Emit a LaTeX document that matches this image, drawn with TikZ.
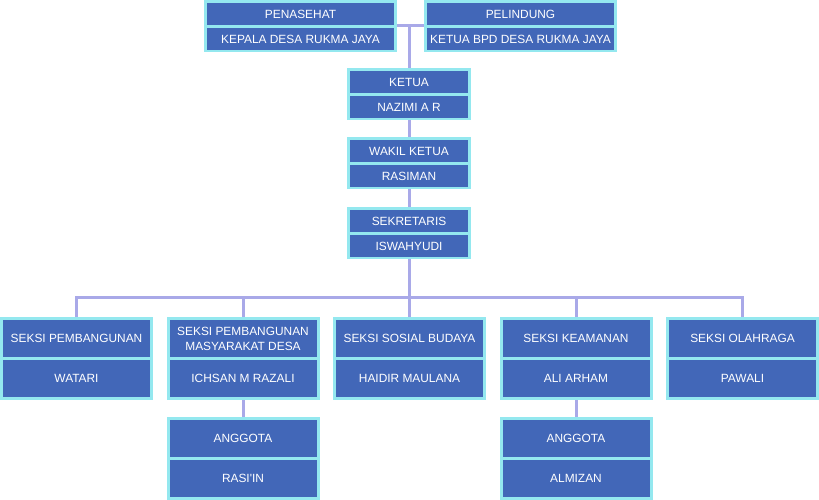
\documentclass[tikz,border=0pt]{standalone}
\usepackage{fontspec}
\setmainfont{Liberation Sans}
\usetikzlibrary{positioning}
\definecolor{cardblue}{HTML}{4267B8}
\definecolor{cardrim}{HTML}{94E8EF}
\definecolor{linkline}{HTML}{A9A9E8}

\begin{document}
\begin{tikzpicture}[x=1pt, y=-1pt,
    card/.style={fill=cardrim, inner sep=0pt, outer sep=0pt, minimum height=52pt},
    tallcard/.style={card, minimum width=153pt, minimum height=83pt},
    cell/.style={fill=cardblue, text=white, inner sep=0pt, outer sep=0pt, align=center, font=\fontsize{11.9}{15}\selectfont, minimum height=22pt},
    tallcell/.style={cell, minimum width=147pt, minimum height=37pt},
    link/.style={draw=linkline, line width=3pt}]
    \useasboundingbox (0,0) rectangle (819,500);
    % top row
    \node[card, minimum width=193pt] (pen) at (300.5,26) {};
    \node[cell, minimum width=187pt, below=3pt of pen.north] (pen1) {PENASEHAT};
    \node[cell, minimum width=187pt, below=3pt of pen1] (pen2) {KEPALA DESA RUKMA JAYA};
    \node[card, minimum width=193pt] (pel) at (520.5,26) {};
    \node[cell, minimum width=187pt, below=3pt of pel.north] (pel1) {PELINDUNG};
    \node[cell, minimum width=187pt, below=3pt of pel1] (pel2) {KETUA BPD DESA RUKMA JAYA};
    % centre column
    \node[card, minimum width=124pt] (ket) at (409,94) {};
    \node[cell, minimum width=118pt, below=3pt of ket.north] (ket1) {KETUA};
    \node[cell, minimum width=118pt, below=3pt of ket1] (ket2) {NAZIMI A R};
    \node[card, minimum width=124pt] (wak) at (409,163) {};
    \node[cell, minimum width=118pt, below=3pt of wak.north] (wak1) {WAKIL KETUA};
    \node[cell, minimum width=118pt, below=3pt of wak1] (wak2) {RASIMAN};
    \node[card, minimum width=124pt] (sek) at (409,233) {};
    \node[cell, minimum width=118pt, below=3pt of sek.north] (sek1) {SEKRETARIS};
    \node[cell, minimum width=118pt, below=3pt of sek1] (sek2) {ISWAHYUDI};
    % sections
    \foreach \i/\x/\ta/\tb in {1/76.5/{SEKSI PEMBANGUNAN}/{WATARI},
        2/243/{SEKSI PEMBANGUNAN\\MASYARAKAT DESA}/{ICHSAN M RAZALI},
        3/409.5/{SEKSI SOSIAL BUDAYA}/{HAIDIR MAULANA},
        4/576/{SEKSI KEAMANAN}/{ALI ARHAM},
        5/742.5/{SEKSI OLAHRAGA}/{PAWALI}} {
        \node[tallcard] (sec\i) at (\x,358.5) {};
        \node[tallcell, below=3pt of sec\i.north] (sec\i a) {\ta};
        \node[tallcell, below=3pt of sec\i a] (sec\i b) {\tb};
    }
    % members
    \node[tallcard] (ang) at (243,458.5) {};
    \node[tallcell, below=3pt of ang.north] (ang1) {ANGGOTA};
    \node[tallcell, below=3pt of ang1] (ang2) {RASI\textquotesingle IN};
    \node[tallcard] (agk) at (576,458.5) {};
    \node[tallcell, below=3pt of agk.north] (agk1) {ANGGOTA};
    \node[tallcell, below=3pt of agk1] (agk2) {ALMIZAN};
    % connectors
    \coordinate (bus) at (409,297);
    \draw[link] (pen.east) -- (pel.west);
    \draw[link] (ket.north) -- (ket.north |- pen.east);
    \draw[link] (ket.south) -- (wak.north);
    \draw[link] (wak.south) -- (sek.north);
    \draw[link] (sek.south) -- (bus);
    \draw[link] (sec1.north) -- (sec1.north |- bus) -- (sec5.north |- bus) -- (sec5.north);
    \foreach \i in {2,3,4} \draw[link] (sec\i.north) -- (sec\i.north |- bus);
    \draw[link] (sec2.south) -- (ang.north);
    \draw[link] (sec4.south) -- (agk.north);
\end{tikzpicture}
\end{document}
